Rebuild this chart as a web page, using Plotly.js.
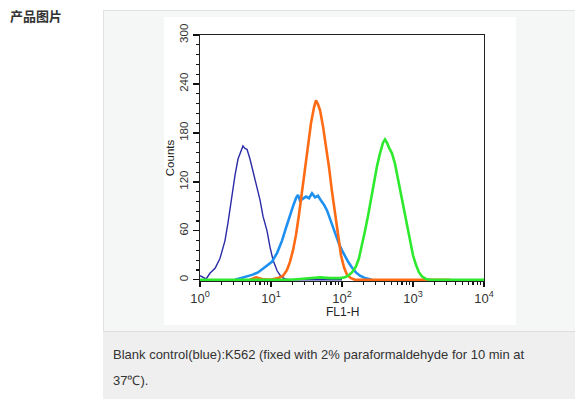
<!DOCTYPE html>
<html>
<head>
<meta charset="utf-8">
<script src="https://cdn.plot.ly/plotly-3.0.1.min.js"></script>
<style>
  html, body { margin: 0; padding: 0; background: #ffffff; width: 575px; height: 399px; overflow: hidden; }
  #label { position: absolute; left: 10px; top: 6px; font-family: "Noto Sans CJK SC", sans-serif; font-weight: bold; font-size: 13px; color: #333; }
  #box { position: absolute; left: 103px; top: 10px; width: 480px; height: 400px; background: #f5f6f6; border-left: 1px solid #e2e2e2; border-top: 1px solid #e2e2e2; }
  #cap { position: absolute; left: 103px; top: 331px; width: 480px; height: 80px; background: #efefef; border-top: 1px solid #dedede; }
  #captext { position: absolute; left: 113px; top: 342px; font-family: "Liberation Sans", Arial, sans-serif; font-size: 13px; line-height: 26px; color: #333; width: 460px; }
  #chart { position: absolute; left: 164px; top: 17px; width: 352px; height: 308px; background: #fff; }
</style>
</head>
<body>
<div id="label">产品图片</div>
<div id="box"></div>
<div id="cap"></div>
<div id="captext">Blank control(blue):K562 (fixed with 2% paraformaldehyde for 10 min at<br>37℃).</div>
<div id="chart"></div>
<script>
// FL1-H channel values and counts for each histogram
const blankX = [1.00,1.10,1.22,1.38,1.63,1.91,2.25,2.48,2.82,3.11,3.43,3.78,4.03,4.30,4.59,5.06,5.58,6.35,7.00,7.71,8.79,9.68,10.7,12.2,13.8,15.7,18.5,40,100];
const blankY = [5,3,1,8,14,26,48,70,104,128,148,158,164,161,160,148,133,114,98,78,60,40,24,11,4,1,0,0,0];

const lightX = [3.11,4.30,5.40,6.56,8.23,10.3,12.2,14.3,16.3,18.5,20.4,22.5,24.0,25.6,28.2,31.1,34.3,37.8,41.7,45.9,50.6,55.7,61.5,67.8,74.7,82.3,90.7,100,110,122,138,157,179,211,265];
const lightY = [0,3,6,9,15,22,33,48,64,80,90,100,104,97,99,102,100,106,101,103,97,92,85,74,64,53,44,36,29,22,15,9,5,2,0];

const orangeX = [5.06,6.15,7.47,9.68,12.6,14.8,16.8,18.5,20.4,22.5,24.8,27.3,30.1,33.2,36.6,40.3,43.0,45.9,49.0,54.0,59.5,65.6,72.3,79.7,87.9,96.8,107,118,134,152,3300];
const orangeY = [0,3,1,0,2,5,12,22,36,55,80,108,135,162,192,211,220,215,208,188,165,138,108,80,52,30,15,6,2,0,0];

const greenX = [1,18,25.6,35.4,49.0,67.8,93.7,110,122,138,157,173,191,211,232,256,282,311,343,378,403,430,459,506,558,615,678,747,823,907,1000,1103,1216,1340,1525,1735,10000];
const greenY = [0,0,1,2,3,2,2,3,5,9,16,26,42,60,78,100,120,139,155,168,172,168,162,155,142,123,105,86,64,45,30,18,9,4,1,0,0];

const xTickVals = [1,10,100,1000,10000];
const xTickText = ['10<sup>0</sup>','10<sup>1</sup>','10<sup>2</sup>','10<sup>3</sup>','10<sup>4</sup>'];
const yTickVals = [0,60,120,180,240,300];
const xTitle = 'FL1-H';

const xMinor = [];
for (let d = 0; d < 4; d++) for (let k = 2; k <= 9; k++) xMinor.push(k * Math.pow(10, d));

const traces = [
  {x: blankX, y: blankY, mode: 'lines', line: {color: '#2b2ba8', width: 1.4}, hoverinfo: 'skip'},
  {x: lightX, y: lightY, mode: 'lines', line: {color: '#1e90f0', width: 2.6}, hoverinfo: 'skip'},
  {x: orangeX, y: orangeY, mode: 'lines', line: {color: '#ff6a14', width: 2.6}, hoverinfo: 'skip'},
  {x: greenX, y: greenY, mode: 'lines', line: {color: '#2eea2e', width: 2.6}, hoverinfo: 'skip'}
];

const layout = {
  width: 352, height: 308,
  margin: {l: 36, r: 32, t: 18, b: 44, pad: 0},
  paper_bgcolor: '#ffffff', plot_bgcolor: '#ffffff',
  showlegend: false,
  font: {family: '"Liberation Sans", Arial, sans-serif', color: '#222'},
  xaxis: {
    type: 'log', range: [0, 4], tickmode: 'array', tickvals: xTickVals, ticktext: xTickText,
    ticks: 'outside', ticklen: 5, tickwidth: 1.3, tickcolor: '#111',
    showline: true, linecolor: '#222', linewidth: 1.3, mirror: true,
    showgrid: false, zeroline: false, layer: 'below traces',
    tickfont: {size: 13, color: '#333'},
    minor: {tickmode: 'array', tickvals: xMinor, ticks: 'outside', ticklen: 3, tickwidth: 1.1, tickcolor: '#111', showgrid: false}
  },
  yaxis: {
    range: [-1.5, 300], tickmode: 'array', tickvals: yTickVals,
    ticks: 'outside', ticklen: 6, tickwidth: 1.3, tickcolor: '#111', tickangle: -90,
    showline: true, linecolor: '#222', linewidth: 1.3, mirror: true,
    showgrid: false, zeroline: false,
    tickfont: {size: 11.5, color: '#333'},
    minor: {dtick: 12, ticks: 'outside', ticklen: 3, tickwidth: 1.1, tickcolor: '#111', showgrid: false},
    title: {text: 'Counts', font: {size: 11.5, color: '#222'}, standoff: 2}
  },
  annotations: [{
    text: xTitle, xref: 'paper', yref: 'paper', x: 0.5, y: 0, xanchor: 'center', yanchor: 'top',
    yshift: -22, showarrow: false, font: {size: 12, color: '#222'}
  }]
};

Plotly.newPlot('chart', traces, layout, {displayModeBar: false, staticPlot: true});
</script>
</body>
</html>
